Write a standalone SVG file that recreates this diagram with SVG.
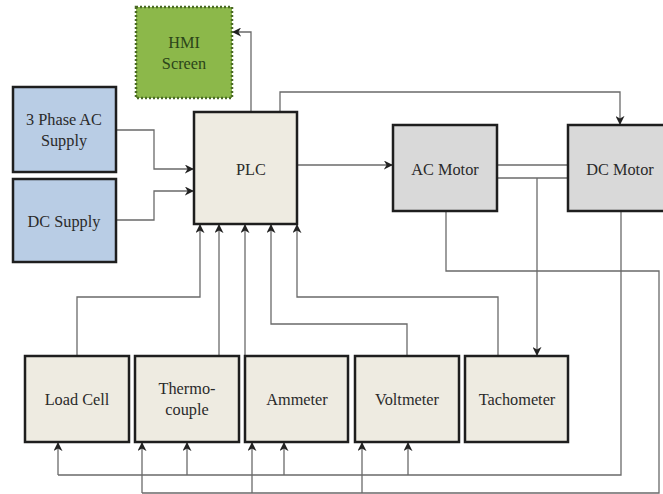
<svg xmlns="http://www.w3.org/2000/svg" width="663" height="494" viewBox="0 0 663 494">
<style>
.box{stroke:#1e1e1e;stroke-width:2.5}
.b{fill:#b9cde5}
.p{fill:#eeebe1}
.m{fill:#d9d9d9}
.hmi{fill:#8cb84a;stroke:#4a6a25;stroke-width:2.5;stroke-dasharray:2 2}
text{font-family:'Liberation Serif','Times New Roman',serif;font-size:16.3px;fill:#2a2a2a;text-anchor:middle}
.ht{fill:#2b4519}
.c{fill:none;stroke:#6a6a6a;stroke-width:1.3}
.a{marker-end:url(#ah)}
</style>
<defs>
<marker id="ah" viewBox="0 0 10 10" refX="9" refY="5" markerWidth="9" markerHeight="9" markerUnits="userSpaceOnUse" orient="auto">
<path d="M0,0 L10,5 L0,10 L3,5 z" fill="#222"/>
</marker>
</defs>
<rect width="663" height="494" fill="#ffffff"/>
<g id="connectors">
<path class="c a" d="M251,112 V32 H233"/>
<path class="c a" d="M280,112 V92 H620 V124"/>
<path class="c a" d="M116,130 H154 V169 H193"/>
<path class="c a" d="M116,220 H154 V191 H193"/>
<path class="c a" d="M297,165 H392"/>
<path class="c" d="M497,165 H567"/>
<path class="c" d="M497,178 H567"/>
<path class="c a" d="M537,178 V355"/>
<path class="c" d="M446,211 V271 H659 V493 H142"/>
<path class="c" d="M621,211 V475 H58"/>
<path class="c a" d="M58,475 V443"/>
<path class="c a" d="M142,493 V443"/>
<path class="c a" d="M187,475 V443"/>
<path class="c a" d="M252,493 V443"/>
<path class="c a" d="M284,475 V443"/>
<path class="c a" d="M362,493 V443"/>
<path class="c a" d="M408,475 V443"/>
<path class="c a" d="M77,356 V297 H200 V225"/>
<path class="c a" d="M219,356 V225"/>
<path class="c a" d="M245,356 V225"/>
<path class="c a" d="M407,356 V324 H271 V225"/>
<path class="c a" d="M498,356 V297 H297 V225"/>
</g>
<g id="hmi">
<rect class="hmi" x="136" y="7" width="96" height="91"/>
<text class="ht" x="184" y="48">HMI</text>
<text class="ht" x="184" y="69">Screen</text>
</g>
<g id="ac-supply">
<rect class="box b" x="13" y="87" width="103" height="85"/>
<text x="64" y="125">3 Phase AC</text>
<text x="64" y="146">Supply</text>
</g>
<g id="dc-supply">
<rect class="box b" x="13" y="179" width="103" height="83"/>
<text x="64" y="227">DC Supply</text>
</g>
<g id="plc">
<rect class="box p" x="194" y="112" width="103" height="112"/>
<text x="251" y="175">PLC</text>
</g>
<g id="ac-motor">
<rect class="box m" x="393" y="125" width="104" height="86"/>
<text x="445" y="175">AC Motor</text>
</g>
<g id="dc-motor">
<rect class="box m" x="568" y="125" width="106" height="86"/>
<text x="620" y="175">DC Motor</text>
</g>
<g id="load-cell">
<rect class="box p" x="25" y="356" width="104" height="86"/>
<text x="77" y="405">Load Cell</text>
</g>
<g id="thermocouple">
<rect class="box p" x="135" y="356" width="104" height="86"/>
<text x="187" y="394">Thermo-</text>
<text x="187" y="415">couple</text>
</g>
<g id="ammeter">
<rect class="box p" x="245" y="356" width="103" height="86"/>
<text x="297" y="405">Ammeter</text>
</g>
<g id="voltmeter">
<rect class="box p" x="355" y="356" width="104" height="86"/>
<text x="407" y="405">Voltmeter</text>
</g>
<g id="tachometer">
<rect class="box p" x="465" y="356" width="103" height="86"/>
<text x="517" y="405">Tachometer</text>
</g>
</svg>
